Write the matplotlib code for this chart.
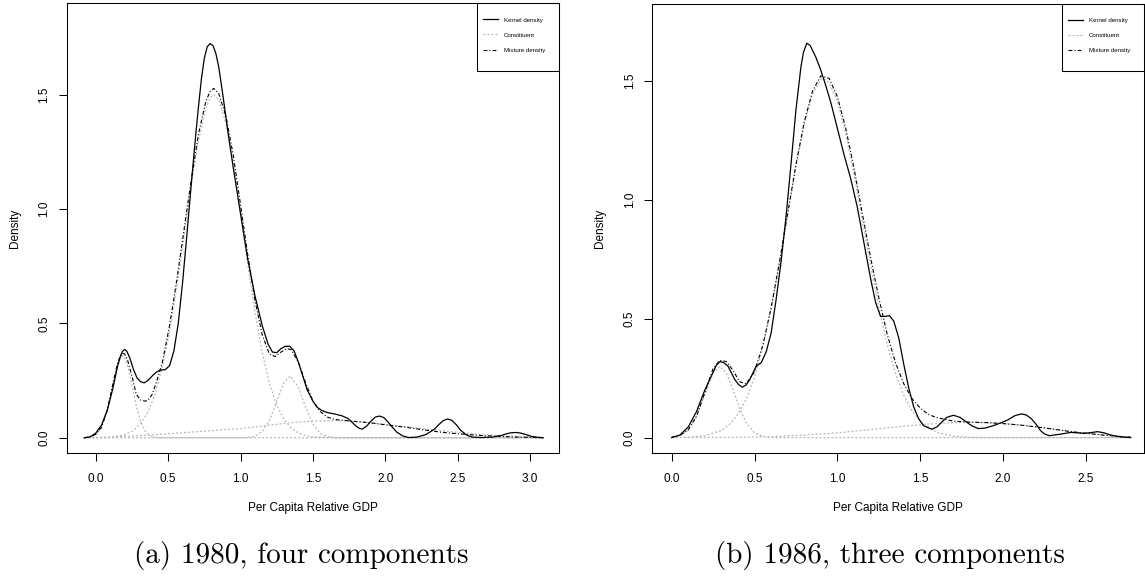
import matplotlib
matplotlib.use('Agg')
import matplotlib.pyplot as plt
from matplotlib.patches import Rectangle

# ---- (a) 1980 ----
a_kern_x = [-0.08, -0.04, 0.0, 0.04, 0.08, 0.12, 0.15, 0.17, 0.185, 0.20, 0.215, 0.235, 0.26, 0.285,
            0.31, 0.335, 0.36, 0.39, 0.42, 0.45, 0.48, 0.51, 0.54, 0.57, 0.60, 0.63, 0.66, 0.69,
            0.71, 0.73, 0.75, 0.77, 0.79, 0.81, 0.83, 0.85, 0.88, 0.91, 0.95, 1.0, 1.05, 1.10,
            1.15, 1.19, 1.22, 1.25, 1.28, 1.31, 1.34, 1.37, 1.40, 1.43, 1.46, 1.50, 1.53, 1.56,
            1.60, 1.65, 1.70, 1.74, 1.77, 1.80, 1.82, 1.84, 1.87, 1.90, 1.93, 1.96, 1.99, 2.02,
            2.05, 2.08, 2.12, 2.16, 2.22, 2.28, 2.34, 2.37, 2.40, 2.43, 2.46, 2.49, 2.52, 2.56,
            2.60, 2.66, 2.74, 2.80, 2.84, 2.87, 2.90, 2.93, 2.97, 3.01, 3.05, 3.09]
a_kern_y = [0.0, 0.004, 0.02, 0.055, 0.12, 0.22, 0.31, 0.355, 0.378, 0.386, 0.378, 0.35, 0.30, 0.262,
            0.245, 0.24, 0.25, 0.27, 0.288, 0.296, 0.298, 0.315, 0.38, 0.50, 0.68, 0.89, 1.11, 1.32,
            1.45, 1.57, 1.66, 1.71, 1.724, 1.715, 1.68, 1.62, 1.49, 1.35, 1.18, 0.98, 0.78, 0.62,
            0.49, 0.41, 0.375, 0.372, 0.39, 0.40, 0.40, 0.38, 0.33, 0.27, 0.21, 0.16, 0.133, 0.12,
            0.11, 0.104, 0.096, 0.085, 0.068, 0.05, 0.041, 0.038, 0.05, 0.072, 0.09, 0.095, 0.088, 0.068,
            0.045, 0.024, 0.008, 0.001, 0.003, 0.014, 0.038, 0.058, 0.075, 0.082, 0.076, 0.057, 0.033, 0.012,
            0.003, 0.001, 0.003, 0.01, 0.018, 0.022, 0.023, 0.021, 0.014, 0.006, 0.002, 0.0]

a_mix_x = [-0.08, -0.04, 0.0, 0.04, 0.08, 0.12, 0.15, 0.17, 0.184, 0.20, 0.22, 0.25, 0.28, 0.31,
           0.34, 0.36, 0.39, 0.42, 0.46, 0.51, 0.56, 0.61, 0.66, 0.71, 0.76, 0.79, 0.816, 0.85,
           0.90, 0.95, 1.00, 1.05, 1.10, 1.15, 1.20, 1.24, 1.28, 1.32, 1.35, 1.40, 1.45, 1.50,
           1.55, 1.60, 1.65, 1.76, 1.89, 2.02, 2.15, 2.27, 2.40, 2.53, 2.66, 2.78, 2.91, 3.09]
a_mix_y = [0.0, 0.003, 0.015, 0.046, 0.122, 0.24, 0.325, 0.358, 0.37, 0.366, 0.34, 0.27, 0.19, 0.165,
           0.16, 0.163, 0.19, 0.245, 0.33, 0.49, 0.69, 0.91, 1.13, 1.33, 1.47, 1.515, 1.528, 1.505,
           1.405, 1.235, 1.02, 0.80, 0.60, 0.45, 0.365, 0.355, 0.375, 0.39, 0.385, 0.33, 0.24, 0.16,
           0.115, 0.09, 0.08, 0.073, 0.066, 0.055, 0.045, 0.034, 0.023, 0.016, 0.010, 0.006, 0.003, 0.0]

a_c1_x = [-0.08, -0.04, 0.0, 0.04, 0.08, 0.12, 0.15, 0.17, 0.184, 0.20, 0.22, 0.25, 0.28, 0.31, 0.34,
          0.37, 0.40, 0.45, 3.09]
a_c1_y = [0.0, 0.002, 0.011, 0.043, 0.119, 0.237, 0.32, 0.35, 0.36, 0.35, 0.315, 0.231, 0.141, 0.071,
          0.03, 0.011, 0.003, 0.0, 0.0]

a_c2_x = [-0.08, 0.1, 0.2, 0.26, 0.31, 0.36, 0.41, 0.46, 0.51, 0.56, 0.61, 0.66, 0.71, 0.76, 0.79, 0.816,
          0.85, 0.90, 0.95, 1.0, 1.05, 1.1, 1.15, 1.2, 1.25, 1.3, 1.35, 1.4, 1.45, 1.5, 1.6, 1.7, 3.09]
a_c2_y = [0.0, 0.001, 0.013, 0.032, 0.062, 0.112, 0.19, 0.308, 0.465, 0.661, 0.88, 1.107, 1.30, 1.44, 1.487, 1.50,
          1.478, 1.374, 1.20, 0.982, 0.757, 0.548, 0.372, 0.237, 0.142, 0.08, 0.042, 0.021, 0.01, 0.004, 0.001, 0.0, 0.0]

a_c3_x = [-0.08, 1.0, 1.05, 1.1, 1.15, 1.2, 1.25, 1.3, 1.343, 1.4, 1.45, 1.5, 1.55, 1.6, 1.65, 1.7, 3.09]
a_c3_y = [0.0, 0.0, 0.001, 0.007, 0.027, 0.076, 0.158, 0.241, 0.27, 0.221, 0.133, 0.059, 0.019, 0.005, 0.001, 0.0, 0.0]

a_c4_x = [-0.08, 0.0, 0.2, 0.4, 0.6, 0.8, 1.0, 1.2, 1.35, 1.5, 1.65, 1.8, 2.0, 2.2, 2.4, 2.6, 2.8, 3.0, 3.09]
a_c4_y = [0.0, 0.001, 0.006, 0.013, 0.022, 0.031, 0.040, 0.055, 0.066, 0.073, 0.075, 0.071, 0.058, 0.044,
          0.030, 0.018, 0.009, 0.004, 0.002]

# ---- (b) 1986 ----
b_kern_x = [0.0, 0.05, 0.1, 0.15, 0.2, 0.25, 0.27, 0.293, 0.315, 0.34, 0.38, 0.405, 0.426, 0.45, 0.47,
            0.51, 0.54, 0.57, 0.60, 0.63, 0.66, 0.69, 0.72, 0.75, 0.78, 0.795, 0.815, 0.835, 0.87,
            0.90, 0.93, 0.96, 1.0, 1.04, 1.08, 1.12, 1.16, 1.2, 1.23, 1.26, 1.29, 1.314, 1.34, 1.37,
            1.40, 1.43, 1.46, 1.49, 1.52, 1.57, 1.60, 1.63, 1.66, 1.70, 1.74, 1.77, 1.81, 1.85, 1.89,
            1.94, 1.99, 2.03, 2.07, 2.11, 2.14, 2.17, 2.20, 2.225, 2.25, 2.28, 2.35, 2.41, 2.49,
            2.53, 2.57, 2.61, 2.647, 2.71, 2.77]
b_kern_y = [0.0, 0.011, 0.045, 0.11, 0.2, 0.275, 0.305, 0.32, 0.315, 0.30, 0.245, 0.222, 0.212, 0.222, 0.243,
            0.30, 0.315, 0.36, 0.44, 0.58, 0.74, 0.93, 1.15, 1.38, 1.56, 1.62, 1.659, 1.65, 1.60,
            1.545, 1.48, 1.41, 1.30, 1.19, 1.09, 0.97, 0.82, 0.67, 0.57, 0.51, 0.51, 0.513, 0.49, 0.42,
            0.31, 0.21, 0.13, 0.08, 0.05, 0.035, 0.045, 0.065, 0.085, 0.094, 0.085, 0.07, 0.05, 0.038, 0.04,
            0.05, 0.063, 0.075, 0.092, 0.10, 0.095, 0.08, 0.055, 0.03, 0.015, 0.008, 0.015, 0.022, 0.018,
            0.021, 0.025, 0.02, 0.011, 0.003, 0.0]

b_mix_x = [0.0, 0.05, 0.1, 0.15, 0.2, 0.25, 0.29, 0.33, 0.37, 0.41, 0.45, 0.5, 0.55, 0.6, 0.65, 0.7,
           0.75, 0.8, 0.85, 0.9, 0.95, 1.0, 1.05, 1.1, 1.15, 1.2, 1.25, 1.3, 1.35, 1.4, 1.45, 1.5,
           1.55, 1.6, 1.7, 1.8, 1.9, 2.0, 2.1, 2.2, 2.3, 2.4, 2.5, 2.6, 2.7, 2.77]
b_mix_y = [0.002, 0.009, 0.033, 0.09, 0.19, 0.29, 0.325, 0.32, 0.283, 0.235, 0.226, 0.278, 0.389, 0.546,
           0.737, 0.944, 1.148, 1.328, 1.458, 1.522, 1.511, 1.434, 1.302, 1.134, 0.944, 0.758, 0.588,
           0.436, 0.316, 0.227, 0.164, 0.124, 0.097, 0.084, 0.069, 0.065, 0.063, 0.059, 0.053, 0.045,
           0.036, 0.026, 0.018, 0.011, 0.005, 0.002]

b_c1_x = [0.0, 0.05, 0.1, 0.15, 0.2, 0.25, 0.29, 0.33, 0.37, 0.41, 0.45, 0.5, 0.55, 0.6, 0.7, 2.77]
b_c1_y = [0.002, 0.009, 0.032, 0.089, 0.182, 0.272, 0.30, 0.272, 0.202, 0.123, 0.062, 0.02, 0.005, 0.001, 0.0, 0.0]

b_c2_x = [0.0, 0.1, 0.2, 0.3, 0.35, 0.4, 0.45, 0.5, 0.55, 0.6, 0.65, 0.7, 0.75, 0.8, 0.85, 0.9, 0.915,
          0.95, 1.0, 1.05, 1.1, 1.15, 1.2, 1.25, 1.3, 1.35, 1.4, 1.45, 1.5, 1.6, 1.7, 1.8, 1.9, 2.77]
b_c2_y = [0.0, 0.001, 0.008, 0.03, 0.056, 0.098, 0.162, 0.255, 0.381, 0.542, 0.731, 0.937, 1.14, 1.317,
          1.445, 1.507, 1.51, 1.493, 1.414, 1.28, 1.107, 0.916, 0.724, 0.547, 0.395, 0.272, 0.179, 0.113,
          0.068, 0.022, 0.006, 0.001, 0.0, 0.0]

b_c3_x = [0.0, 0.4, 0.6, 0.8, 1.0, 1.2, 1.4, 1.55, 1.7, 1.8, 1.9, 2.0, 2.1, 2.2, 2.3, 2.4, 2.5, 2.6, 2.7, 2.77]
b_c3_y = [0.0, 0.001, 0.004, 0.011, 0.02, 0.034, 0.048, 0.057, 0.063, 0.064, 0.063, 0.059, 0.053, 0.045,
          0.036, 0.026, 0.018, 0.011, 0.005, 0.002]

plt.rc('font', family='Liberation Sans', size=8.5)
plt.rc('axes', linewidth=0.75)

fig = plt.figure(figsize=(11.45, 5.81), dpi=100)
axa = fig.add_axes([0.0583, 0.2198, 0.4300, 0.7745])
axb = fig.add_axes([0.5697, 0.2198, 0.4294, 0.7738])

gray = '#b8b8b8'

def panel(ax, kern, comps, mix, xlim, ylim, xticks):
  for i, (cx, cy) in enumerate(comps):
    ax.plot(cx, cy, color=gray, lw=0.9, dashes=(1.6, 1.6),
            label='Constituent' if i == 0 else None)
  ax.plot(mix[0], mix[1], color='black', lw=0.8, dashes=(3.5, 1.8, 1.0, 1.8), label='Mixture density')
  ax.plot(kern[0], kern[1], color='black', lw=0.9, label='Kernel density')
  ax.set_xlim(*xlim)
  ax.set_ylim(*ylim)
  ax.set_xticks(xticks)
  ax.set_xticklabels(['{:.1f}'.format(v) for v in xticks])
  yt = [0.0, 0.5, 1.0, 1.5]
  ax.set_yticks(yt)
  ax.set_yticklabels(['{:.1f}'.format(v) for v in yt], rotation=90, va='center')
  ax.tick_params(direction='out', length=5.5, width=0.75, pad=8.5)
  ax.tick_params(axis='y', pad=6.5)
  ax.set_xlabel('Per Capita Relative GDP')
  ax.xaxis.set_label_coords(0.5, -0.122)
  ax.xaxis.label.set_va('center')
  ax.set_ylabel('Density')
  ax.yaxis.set_label_coords(-0.106, 0.5)
  ax.yaxis.label.set_va('center')
  # legend with R-like box
  h, l = ax.get_legend_handles_labels()
  order = [l.index('Kernel density'), l.index('Constituent'), l.index('Mixture density')]
  ax.legend([h[i] for i in order], [l[i] for i in order], loc='upper left',
            bbox_to_anchor=(0.846, 0.969), frameon=False, fontsize=4.4,
            borderpad=0, borderaxespad=0, handlelength=2.4, handletextpad=1.0,
            labelspacing=1.6)
  ax.add_patch(Rectangle((0.834, 0.85), 0.166, 0.15, transform=ax.transAxes,
                         fill=False, edgecolor='black', lw=0.75, clip_on=False))

panel(axa, (a_kern_x, a_kern_y),
      [(a_c1_x, a_c1_y), (a_c2_x, a_c2_y), (a_c3_x, a_c3_y), (a_c4_x, a_c4_y)],
      (a_mix_x, a_mix_y), (-0.2, 3.2), (-0.068, 1.90), [0.0, 0.5, 1.0, 1.5, 2.0, 2.5, 3.0])
panel(axb, (b_kern_x, b_kern_y),
      [(b_c1_x, b_c1_y), (b_c2_x, b_c2_y), (b_c3_x, b_c3_y)],
      (b_mix_x, b_mix_y), (-0.117, 2.85), (-0.066, 1.825), [0.0, 0.5, 1.0, 1.5, 2.0, 2.5])

fig.text(301 / 1145, 1 - 555 / 581, '(a) 1980, four components', family='cmr10', size=21,
         ha='center', va='center')
fig.text(890 / 1145, 1 - 555 / 581, '(b) 1986, three components', family='cmr10', size=21,
         ha='center', va='center')

fig.savefig('out.png', dpi=100)
